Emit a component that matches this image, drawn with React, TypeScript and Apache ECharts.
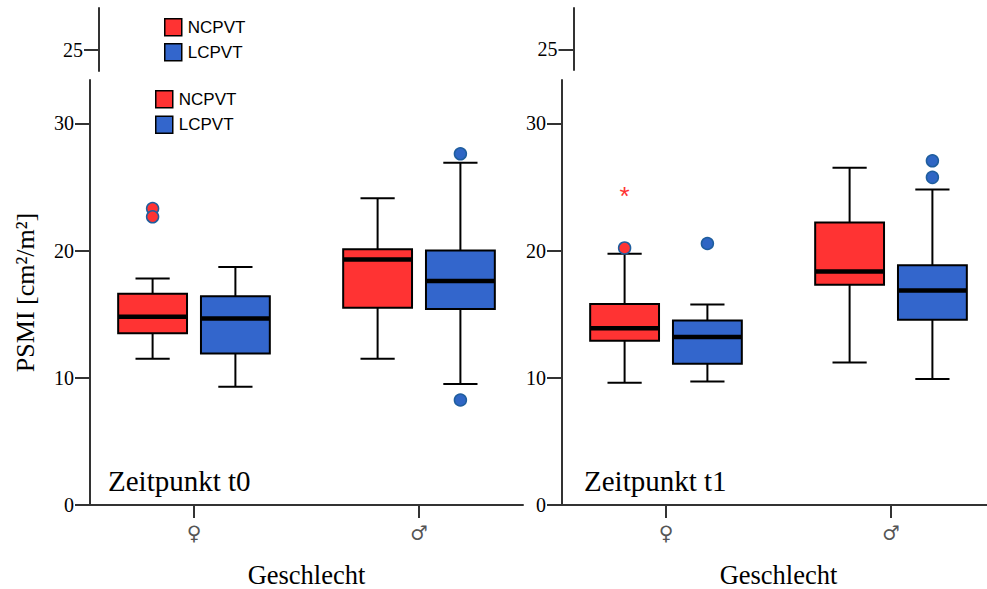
import React, { useEffect, useRef } from 'react';
import * as echarts from 'echarts';

// Categories on the x axis and the two groups compared in each panel
const categories = ['♀', '♂'];
const groupNames = ['NCPVT', 'LCPVT'];
const groupColors = ['#FF3333', '#3366CC'];
const panelTitles = ['Zeitpunkt t0', 'Zeitpunkt t1'];

// Box statistics per category: [min, Q1, median, Q3, max]
const t0Ncpvt = [
  [11.5, 13.5, 14.8, 16.6, 17.8],
  [11.5, 15.5, 19.3, 20.1, 24.1],
];
const t0Lcpvt = [
  [9.3, 11.9, 14.65, 16.4, 18.7],
  [9.5, 15.4, 17.6, 20.0, 26.9],
];
const t1Ncpvt = [
  [9.6, 12.9, 13.9, 15.8, 19.75],
  [11.2, 17.3, 18.35, 22.2, 26.5],
];
const t1Lcpvt = [
  [9.7, 11.1, 13.2, 14.5, 15.75],
  [9.9, 14.55, 16.85, 18.85, 24.8],
];

// Outliers: [category index, value]
const t0NcpvtOutliers = [[0, 23.3], [0, 22.65]];
const t0LcpvtOutliers = [[1, 27.6], [1, 8.25]];
const t1NcpvtOutliers = [[0, 20.2]];
const t1NcpvtExtremes = [[0, 24.65]];
const t1LcpvtOutliers = [[0, 20.55], [1, 27.05], [1, 25.75]];

// Axis ticks
const yInterval = 10;
const yMax = 33.4;
const stripTicks = [25];
const categoryTicks = [0, 1];

const GROUP_OFFSET = 0.184;
const BOX_HALF = 0.153;
const CAP_HALF = 0.076;
const X_PAD = 0.4622;
const SERIF = 'Liberation Serif, Times New Roman, serif';
const SANS = 'Liberation Sans, Arial, sans-serif';
const AXIS_COLOR = '#333';

function boxSeries(name: string, color: string, stats: number[][], side: number, axis: number) {
  return {
    type: 'custom',
    name,
    xAxisIndex: axis,
    yAxisIndex: axis,
    itemStyle: { color },
    encode: { x: 0, y: [1, 2, 3, 4, 5] },
    data: stats.map((s, i) => [i, ...s]),
    renderItem: (_params: any, api: any) => {
      const xc = api.value(0) + side * GROUP_OFFSET;
      const pMin = api.coord([xc, api.value(1)]);
      const pQ1 = api.coord([xc, api.value(2)]);
      const pMed = api.coord([xc, api.value(3)]);
      const pQ3 = api.coord([xc, api.value(4)]);
      const pMax = api.coord([xc, api.value(5)]);
      const half = api.size([BOX_HALF * 2, 0])[0] / 2;
      const cap = api.size([CAP_HALF * 2, 0])[0] / 2;
      const x = pMin[0];
      const line = { stroke: '#000', lineWidth: 2 };
      return {
        type: 'group',
        children: [
          { type: 'line', shape: { x1: x, y1: pMin[1], x2: x, y2: pQ1[1] }, style: line },
          { type: 'line', shape: { x1: x, y1: pQ3[1], x2: x, y2: pMax[1] }, style: line },
          { type: 'line', shape: { x1: x - cap, y1: pMin[1], x2: x + cap, y2: pMin[1] }, style: line },
          { type: 'line', shape: { x1: x - cap, y1: pMax[1], x2: x + cap, y2: pMax[1] }, style: line },
          {
            type: 'rect',
            shape: { x: x - half, y: pQ3[1], width: half * 2, height: pQ1[1] - pQ3[1] },
            style: { fill: color, stroke: '#000', lineWidth: 2 },
          },
          {
            type: 'line',
            shape: { x1: x - half, y1: pMed[1], x2: x + half, y2: pMed[1] },
            style: { stroke: '#000', lineWidth: 4.5 },
          },
        ],
      };
    },
  };
}

function outlierSeries(name: string, fill: string, points: number[][], side: number, axis: number) {
  return {
    type: 'custom',
    name,
    xAxisIndex: axis,
    yAxisIndex: axis,
    itemStyle: { color: fill },
    encode: { x: 0, y: 1 },
    data: points,
    renderItem: (_params: any, api: any) => {
      const p = api.coord([api.value(0) + side * GROUP_OFFSET, api.value(1)]);
      return {
        type: 'circle',
        shape: { cx: p[0], cy: p[1], r: 6 },
        style: { fill, stroke: '#1F5E9E', lineWidth: 1.5 },
      };
    },
  };
}

function extremeSeries(name: string, color: string, points: number[][], side: number, axis: number) {
  return {
    type: 'custom',
    name,
    xAxisIndex: axis,
    yAxisIndex: axis,
    itemStyle: { color },
    encode: { x: 0, y: 1 },
    data: points,
    renderItem: (_params: any, api: any) => {
      const p = api.coord([api.value(0) + side * GROUP_OFFSET, api.value(1)]);
      return {
        type: 'text',
        x: p[0],
        y: p[1] + 5,
        style: {
          text: '*',
          fill: color,
          fontFamily: SANS,
          fontSize: 26,
          align: 'center',
          verticalAlign: 'middle',
        },
      };
    },
  };
}

function mainXAxis(gridIndex: number) {
  return {
    type: 'value',
    gridIndex,
    min: -X_PAD,
    max: 1 + X_PAD,
    name: 'Geschlecht',
    nameLocation: 'middle',
    nameGap: 56,
    nameTextStyle: { fontFamily: SERIF, fontSize: 26.5, color: '#000' },
    axisLine: { show: true, onZero: false, lineStyle: { color: AXIS_COLOR, width: 2 } },
    axisTick: { show: true, length: 13, customValues: categoryTicks, lineStyle: { color: AXIS_COLOR, width: 2 } },
    axisLabel: {
      customValues: categoryTicks,
      formatter: (v: number) => categories[Math.round(v)],
      fontFamily: 'DejaVu Serif, serif',
      fontSize: 20,
      color: '#555',
      margin: 18,
    },
    splitLine: { show: false },
  };
}

function mainYAxis(gridIndex: number, withName: boolean) {
  return {
    type: 'value',
    gridIndex,
    min: 0,
    max: yMax,
    interval: yInterval,
    name: withName ? 'PSMI [cm²/m²]' : '',
    nameLocation: 'middle',
    nameRotate: 90,
    nameGap: 52,
    nameTextStyle: { fontFamily: SERIF, fontSize: 26, color: '#000' },
    axisLine: { show: true, onZero: false, lineStyle: { color: AXIS_COLOR, width: 2 } },
    axisTick: { show: true, length: 15, lineStyle: { color: AXIS_COLOR, width: 2 } },
    axisLabel: { fontFamily: SERIF, fontSize: 20, color: '#000', margin: 16, showMaxLabel: false },
    splitLine: { show: false },
  };
}

function stripYAxis(gridIndex: number) {
  return {
    type: 'value',
    gridIndex,
    min: 23.35,
    max: 28.3,
    axisLine: { show: true, onZero: false, lineStyle: { color: AXIS_COLOR, width: 2 } },
    axisTick: { show: true, length: 15, customValues: stripTicks, lineStyle: { color: AXIS_COLOR, width: 2 } },
    axisLabel: { customValues: stripTicks, fontFamily: SERIF, fontSize: 20, color: '#000', margin: 16 },
    splitLine: { show: false },
  };
}

function legendAt(left: number, top: number, gap: number) {
  return {
    data: groupNames,
    orient: 'vertical',
    left,
    top,
    padding: 0,
    itemGap: gap,
    itemWidth: 17,
    itemHeight: 17,
    icon: 'rect',
    selectedMode: false,
    itemStyle: { borderColor: '#000', borderWidth: 1.5 },
    textStyle: { fontFamily: SANS, fontSize: 17, color: '#000', padding: [0, 0, 0, 1] },
  };
}

export default function App() {
  const ref = useRef<HTMLDivElement>(null);

  useEffect(() => {
    if (!ref.current) return;
    const chart = echarts.init(ref.current, null, { renderer: 'svg' });
    const fixedGrid = { containLabel: false, outerBoundsMode: 'none' };
    const option: any = {
      animation: false,
      backgroundColor: '#fff',
      grid: [
        { ...fixedGrid, left: 90, top: 80, width: 433, height: 425 },
        { ...fixedGrid, left: 562, top: 80, width: 433, height: 425 },
        { ...fixedGrid, left: 99, top: 8, width: 10, height: 63 },
        { ...fixedGrid, left: 573.5, top: 8, width: 10, height: 62 },
      ],
      xAxis: [
        mainXAxis(0),
        mainXAxis(1),
        { type: 'value', gridIndex: 2, show: false },
        { type: 'value', gridIndex: 3, show: false },
      ],
      yAxis: [mainYAxis(0, true), mainYAxis(1, false), stripYAxis(2), stripYAxis(3)],
      legend: [legendAt(164, 18, 6.4), legendAt(155, 90, 7)],
      graphic: [
        {
          type: 'text',
          left: 108,
          top: 466,
          style: { text: panelTitles[0], fontFamily: SERIF, fontSize: 29, fill: '#000' },
        },
        {
          type: 'text',
          left: 584,
          top: 466,
          style: { text: panelTitles[1], fontFamily: SERIF, fontSize: 29, fill: '#000' },
        },
      ],
      series: [
        boxSeries(groupNames[0], groupColors[0], t0Ncpvt, -1, 0),
        boxSeries(groupNames[1], groupColors[1], t0Lcpvt, 1, 0),
        outlierSeries(groupNames[0], groupColors[0], t0NcpvtOutliers, -1, 0),
        outlierSeries(groupNames[1], '#2F66C4', t0LcpvtOutliers, 1, 0),
        boxSeries(groupNames[0], groupColors[0], t1Ncpvt, -1, 1),
        boxSeries(groupNames[1], groupColors[1], t1Lcpvt, 1, 1),
        outlierSeries(groupNames[0], groupColors[0], t1NcpvtOutliers, -1, 1),
        extremeSeries(groupNames[0], groupColors[0], t1NcpvtExtremes, -1, 1),
        outlierSeries(groupNames[1], '#2F66C4', t1LcpvtOutliers, 1, 1),
      ],
    };
    chart.setOption(option);
    return () => chart.dispose();
  }, []);

  return (
    <div
      ref={ref}
      style={{ position: 'absolute', left: 0, top: 0, width: 987, height: 589 }}
    />
  );
}
